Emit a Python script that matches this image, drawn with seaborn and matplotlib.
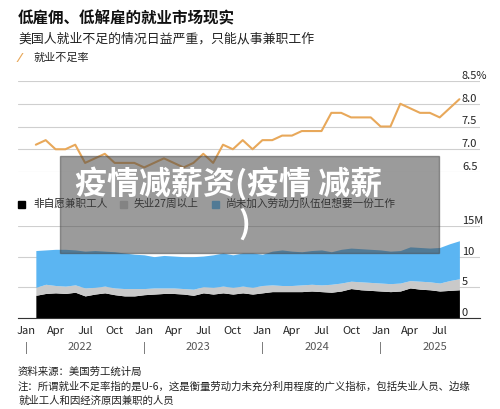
import numpy as np
import pandas as pd
import matplotlib.pyplot as plt
import seaborn as sns
from matplotlib.patches import Rectangle

# months since Jan 2022 (Feb 2022 .. Sep 2025)
months = list(range(1, 45))
u6_rate = [7.1, 7.2, 7.0, 7.0, 7.1, 6.7, 6.8, 6.9, 6.7, 6.7, 6.7, 6.6, 6.7, 6.8, 6.7,
           6.6, 6.7, 6.9, 6.7, 7.1, 7.0, 7.2, 7.0, 7.2, 7.2, 7.3, 7.3, 7.4, 7.4, 7.4,
           7.8, 7.8, 7.7, 7.7, 7.7, 7.5, 7.5, 8.0, 7.9, 7.8, 7.8, 7.7, 7.9, 8.1]
part_time = [3.7, 4.0, 4.1, 4.0, 4.2, 3.6, 3.9, 4.1, 3.8, 3.6, 3.6, 3.8, 3.9, 4.0, 4.0,
             3.9, 3.7, 4.1, 3.9, 4.1, 3.9, 4.1, 3.9, 4.1, 4.3, 4.3, 4.3, 4.3, 4.4, 4.3,
             4.2, 4.4, 4.8, 4.6, 4.5, 4.4, 4.3, 4.4, 4.9, 4.7, 4.6, 4.4, 4.5, 4.6]
gray_top = [5.0, 5.5, 5.3, 5.2, 5.4, 4.9, 5.0, 5.2, 4.9, 4.8, 4.8, 4.8, 4.9, 4.9, 4.9,
            4.8, 4.7, 5.1, 5.0, 5.2, 5.0, 5.2, 5.0, 5.3, 5.4, 5.3, 5.3, 5.4, 5.5, 5.4,
            5.5, 5.7, 6.0, 5.9, 5.8, 5.7, 5.6, 5.7, 6.1, 6.0, 5.9, 5.7, 6.1, 6.4]
blue_top = [11.0, 11.1, 11.2, 11.2, 11.1, 10.9, 11.0, 10.9, 10.8, 10.6, 10.4, 10.3, 10.0,
            10.2, 10.1, 10.0, 10.0, 10.1, 10.3, 10.6, 10.3, 10.6, 10.6, 10.4, 10.9, 11.1,
            10.9, 10.8, 11.0, 11.1, 10.8, 11.2, 11.4, 11.3, 11.2, 11.1, 10.9, 11.0, 11.6,
            11.5, 11.4, 11.5, 12.1, 12.6]
long_unemp = list(np.array(gray_top) - np.array(part_time))
want_job = list(np.array(blue_top) - np.array(gray_top))

month_labels = ["Jan", "Apr", "Jul", "Oct"]
years = ["2022", "2023", "2024", "2025"]

sns.set_style("white")
plt.rcParams["font.family"] = ["Noto Sans CJK SC", "DejaVu Sans"]

W, H = 500, 409
fig = plt.figure(figsize=(W / 100, H / 100), dpi=100)

def px_axes(x0, y0, x1, y1):
    return fig.add_axes([x0 / W, 1 - y1 / H, (x1 - x0) / W, (y1 - y0) / H])

x0_px, per_month = 26, 9.85
xlim = ((18 - x0_px) / per_month, (480 - x0_px) / per_month)
grid_c = "#cfcfcf"

def right_labels(ax):
    ax.yaxis.tick_right()
    ax.tick_params(axis="y", length=0, labelsize=8, colors="#222", pad=-13)
    for lab in ax.get_yticklabels():
        lab.set_verticalalignment("bottom")
        lab.set_horizontalalignment("left")

# top: line chart
ax1 = px_axes(18, 81, 480, 172)
df = pd.DataFrame({"m": months, "u6": u6_rate})
sns.lineplot(data=df, x="m", y="u6", ax=ax1, color="#e8a85a", linewidth=1.5)
ax1.set_xlim(*xlim)
ax1.set_ylim(6.5, 8.5)
ax1.set_yticks([6.5, 7.0, 7.5, 8.0, 8.5])
ax1.set_yticklabels(["6.5", "7.0", "7.5", "8.0", "8.5%"])
right_labels(ax1)
ax1.set_xticks([])
ax1.set_xlabel("")
ax1.set_ylabel("")
ax1.grid(axis="y", color=grid_c, linewidth=0.8)
for s in ax1.spines.values():
    s.set_visible(False)

# bottom: stacked area
ax2 = px_axes(18, 226, 480, 318)
ax2.stackplot(months, part_time, long_unemp, want_job,
              colors=["#000000", "#c9c9c9", "#5bb5f2"], linewidth=0)
ax2.set_xlim(*xlim)
ax2.set_ylim(0, 15)
ax2.set_yticks([0, 5, 10, 15])
ax2.set_yticklabels(["0", "5", "10", "15M"])
right_labels(ax2)
ax2.grid(axis="y", color=grid_c, linewidth=0.8)
ax2.set_axisbelow(True)
for k, s in ax2.spines.items():
    s.set_visible(k == "bottom")
ax2.spines["bottom"].set_color("#333")
ax2.set_xticks(range(0, 45, 3))
ax2.set_xticklabels([month_labels[(i // 3) % 4] for i in range(0, 45, 3)])
ax2.set_xticks(range(0, 46), minor=True)
ax2.tick_params(axis="x", which="major", length=4, labelsize=8, colors="#222", pad=2)
ax2.tick_params(axis="x", which="minor", length=2, color="#333")
for i, y in enumerate(years):
    ax2.text(i * 12 + 5.5, -3.9, y, ha="center", va="top", fontsize=8,
             color="#555", clip_on=False)
    ax2.text(i * 12, -3.9, "|", ha="center", va="top", fontsize=8,
             color="#555", clip_on=False)

# titles & legends
fig.text(18 / W, 1 - 18 / H, "低雇佣、低解雇的就业市场现实", fontsize=11.2,
         fontweight="bold", va="center", color="#111")
fig.text(18 / W, 1 - 39 / H, "美国人就业不足的情况日益严重，只能从事兼职工作",
         fontsize=9.3, va="center", color="#222")
fig.text(18 / W, 1 - 58 / H, "⁄", fontsize=9, va="center", color="#e8a85a",
         fontweight="bold")
fig.text(33 / W, 1 - 58 / H, "就业不足率", fontsize=8, va="center", color="#222")

leg_y = 1 - 204 / H
for xs, xt, c, t in [(18, 33, "#000000", "非自愿兼职工人"),
                     (120, 134, "#c9c9c9", "失业27周以上"),
                     (212, 226, "#5bb5f2", "尚未加入劳动力队伍但想要一份工作")]:
    fig.patches.append(Rectangle((xs / W, leg_y - 3.5 / H), 7 / W, 7 / H,
                                 color=c, transform=fig.transFigure))
    fig.text(xt / W, leg_y, t, fontsize=7.7, va="center", color="#222")

fig.text(18 / W, 1 - 372 / H, "资料来源：美国劳工统计局", fontsize=7.5,
         va="center", color="#222")
fig.text(18 / W, 1 - 387 / H,
         "注：所谓就业不足率指的是U-6，这是衡量劳动力未充分利用程度的广义指标，包括失业人员、边缘",
         fontsize=7.5, va="center", color="#222")
fig.text(18 / W, 1 - 401 / H, "就业工人和因经济原因兼职的人员", fontsize=7.5,
         va="center", color="#222")

# overlay banner
fig.patches.append(Rectangle((60 / W, 1 - 253 / H), 379 / W, 97 / H,
                             color="#4a4a4a", alpha=0.55, transform=fig.transFigure,
                             zorder=10))
fig.text(75 / W, 1 - 184 / H, "疫情减薪资(疫情 减薪", fontsize=23,
         fontweight="bold", color="white", va="center", zorder=11)
fig.text(238 / W, 1 - 224 / H, ")", fontsize=23, fontweight="bold",
         color="white", va="center", zorder=11)

fig.savefig("out.png", dpi=100)
